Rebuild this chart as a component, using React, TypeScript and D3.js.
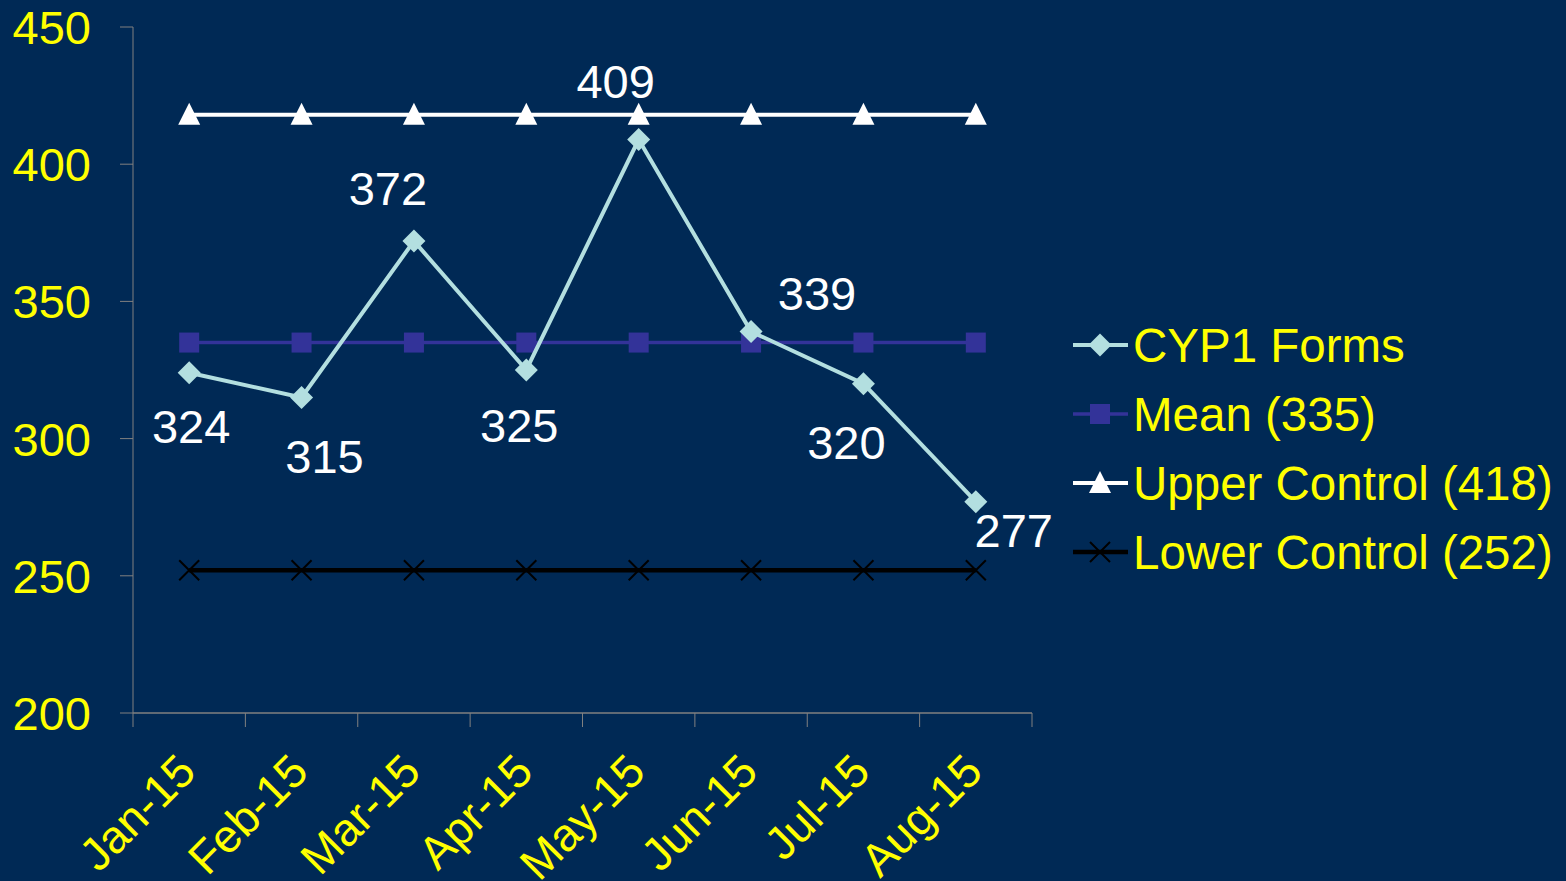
import * as d3 from "d3";
import React from "react";

const months = ["Jan-15", "Feb-15", "Mar-15", "Apr-15", "May-15", "Jun-15", "Jul-15", "Aug-15"];
const cypForms = [324, 315, 372, 325, 409, 339, 320, 277];
const meanValue = [335, 335, 335, 335, 335, 335, 335, 335];
const upperControl = [418, 418, 418, 418, 418, 418, 418, 418];
const lowerControl = [252, 252, 252, 252, 252, 252, 252, 252];
const yTicks = [200, 250, 300, 350, 400, 450];
const legendLabels = ["CYP1 Forms", "Mean (335)", "Upper Control (418)", "Lower Control (252)"];

// where each data label sits relative to its point (text center, baseline)
const labelOffsets: [number, number][] = [
  [2, 70], [23, 76], [-26, -36], [-7, 72], [-23, -42], [66, -22], [-17, 75], [38, 45],
];

const W = 1566;
const H = 881;
const bg = "#002955";
const yellow = "#ffff00";
const font = "'Liberation Sans', Arial, sans-serif";
const axisColor = "#808080";

const colors = {
  cyp: "#b3dfe0",
  mean: "#333399",
  upper: "#ffffff",
  lower: "#000000",
};

const Marker = ({ kind, x, y }: { kind: string; x: number; y: number }) => {
  if (kind === "diamond") {
    const r = 11.5;
    return (
      <path
        d={`M${x},${y - r}L${x + r},${y}L${x},${y + r}L${x - r},${y}Z`}
        fill={colors.cyp}
      />
    );
  }
  if (kind === "square") {
    const s = 10;
    return <rect x={x - s} y={y - s} width={2 * s} height={2 * s} fill={colors.mean} />;
  }
  if (kind === "triangle") {
    return (
      <path
        d={`M${x},${y - 12}L${x + 11},${y + 10}L${x - 11},${y + 10}Z`}
        fill={colors.upper}
      />
    );
  }
  const r = 10;
  return (
    <path
      d={`M${x - r},${y - r}L${x + r},${y + r}M${x + r},${y - r}L${x - r},${y + r}`}
      stroke={colors.lower}
      strokeWidth={2}
    />
  );
};

export default function App() {
  const left = 133;
  const right = 1032;
  const top = 27;
  const bottom = 713;

  const x = d3.scaleBand<string>().domain(months).range([left, right]);
  const y = d3.scaleLinear().domain([200, 450]).range([bottom, top]);
  const cx = (m: string) => (x(m) as number) + x.bandwidth() / 2;

  const series = [
    { values: lowerControl, color: colors.lower, width: 4.5, marker: "x" },
    { values: upperControl, color: colors.upper, width: 4, marker: "triangle" },
    { values: meanValue, color: colors.mean, width: 3.5, marker: "square" },
    { values: cypForms, color: colors.cyp, width: 4, marker: "diamond" },
  ];

  const line = d3
    .line<number>()
    .x((_, i) => cx(months[i]))
    .y((d) => y(d));

  const legendOrder = [3, 2, 1, 0];
  const legendX = 1073;
  const legendY = [345, 414, 483, 552];

  return (
    <div style={{ position: "absolute", left: 0, top: 0 }}>
      <svg width={W} height={H} style={{ display: "block" }}>
        <rect width={W} height={H} fill={bg} />

        {/* y axis */}
        <line x1={left} x2={left} y1={top} y2={bottom} stroke={axisColor} strokeWidth={1} />
        {yTicks.map((t) => (
          <g key={t}>
            <line x1={left - 13} x2={left} y1={y(t)} y2={y(t)} stroke={axisColor} />
            <text
              x={91}
              y={y(t)}
              dy="0.36em"
              textAnchor="end"
              fill={yellow}
              fontFamily={font}
              fontSize={47}
            >
              {t}
            </text>
          </g>
        ))}

        {/* x axis */}
        <line x1={left} x2={right} y1={bottom} y2={bottom} stroke={axisColor} strokeWidth={1.5} />
        {[...months.map((m) => x(m) as number), right].map((p, i) => (
          <line key={i} x1={p} x2={p} y1={bottom} y2={bottom + 14} stroke={axisColor} />
        ))}
        {months.map((m) => (
          <text
            key={m}
            transform={`translate(${cx(m) + 9},${774}) rotate(-45)`}
            textAnchor="end"
            fill={yellow}
            fontFamily={font}
            fontSize={46}
          >
            {m}
          </text>
        ))}

        {/* series */}
        {series.map((s, si) => (
          <g key={si}>
            <path d={line(s.values) || ""} fill="none" stroke={s.color} strokeWidth={s.width} />
            {s.values.map((v, i) => (
              <Marker key={i} kind={s.marker} x={cx(months[i])} y={y(v)} />
            ))}
          </g>
        ))}

        {/* data labels */}
        {cypForms.map((v, i) => (
          <text
            key={i}
            x={cx(months[i]) + labelOffsets[i][0]}
            y={y(v) + labelOffsets[i][1]}
            textAnchor="middle"
            fill="#ffffff"
            fontFamily={font}
            fontSize={47}
          >
            {v}
          </text>
        ))}

        {/* legend */}
        {legendOrder.map((si, k) => {
          const s = series[si];
          const ly = legendY[k];
          return (
            <g key={k}>
              <line
                x1={legendX}
                x2={legendX + 55}
                y1={ly}
                y2={ly}
                stroke={s.color}
                strokeWidth={s.width}
              />
              <Marker kind={s.marker} x={legendX + 27} y={ly} />
              <text
                x={1133}
                y={ly}
                dy="0.36em"
                fill={yellow}
                fontFamily={font}
                fontSize={47.5}
              >
                {legendLabels[k]}
              </text>
            </g>
          );
        })}
      </svg>
    </div>
  );
}
